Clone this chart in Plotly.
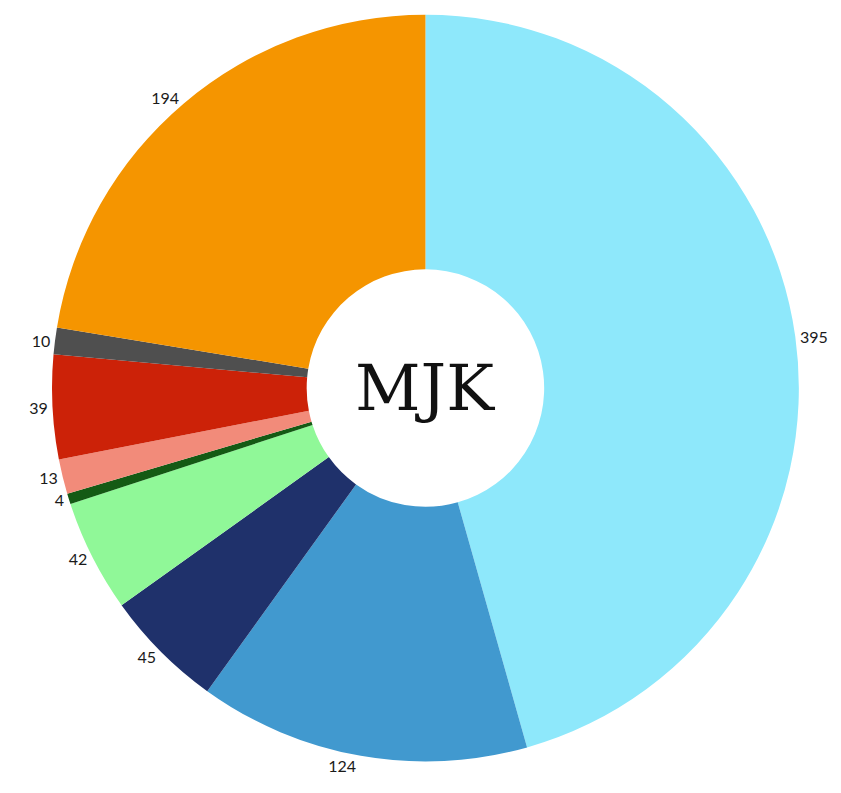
import plotly.graph_objects as go

labels = ["A", "B", "C", "D", "E", "F", "G", "H", "I"]
values = [395, 124, 45, 42, 4, 13, 39, 10, 194]
colors = ["#8EE8FB", "#4199CF", "#1F316B", "#90F898", "#145A14",
          "#F28B7A", "#CC2208", "#4F4F4F", "#F59500"]

fig = go.Figure(go.Pie(
    labels=labels,
    values=values,
    hole=0.318,
    sort=False,
    direction="clockwise",
    rotation=0,
    marker=dict(colors=colors, line=dict(width=0)),
    textinfo="value",
    textposition="outside",
    outsidetextfont=dict(family="Lato, Open Sans, sans-serif", size=16, color="#1a1a1a"),
    showlegend=False,
    domain=dict(x=[0.0, 0.975], y=[0.048, 1.0]),
))

fig.add_annotation(
    x=0.4875, y=0.524, xref="paper", yref="paper",
    text="MJK", showarrow=False,
    font=dict(family="DejaVu Serif, serif", size=64, color="#111111"),
)

fig.update_layout(
    width=841, height=793,
    margin=dict(l=0, r=0, t=0, b=0),
    paper_bgcolor="white",
    plot_bgcolor="white",
)

fig.write_html("out.html")
